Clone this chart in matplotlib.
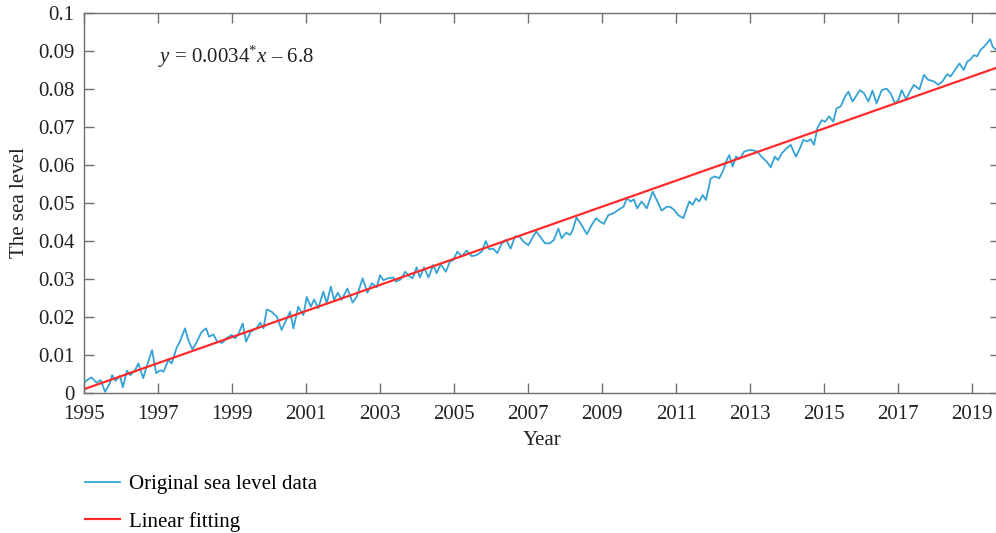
import numpy as np
import matplotlib
matplotlib.use("Agg")
import matplotlib.pyplot as plt

plt.rcParams['font.family'] = ['Liberation Serif', 'DejaVu Serif']
plt.rcParams['mathtext.fontset'] = 'custom'
plt.rcParams['mathtext.rm'] = 'Liberation Serif'
plt.rcParams['mathtext.it'] = 'Liberation Serif:italic'

# sea level readings (year, level)
years = [1995.00, 1995.05, 1995.20, 1995.34, 1995.45, 1995.57, 1995.70, 1995.76, 1995.85, 1995.97,
         1996.05, 1996.16, 1996.25, 1996.38, 1996.47, 1996.60, 1996.69, 1996.84, 1996.95, 1997.06,
         1997.15, 1997.28, 1997.37, 1997.50, 1997.59, 1997.73, 1997.82, 1997.93, 1998.03, 1998.18,
         1998.30, 1998.38, 1998.50, 1998.60, 1998.74, 1998.85, 1998.99, 1999.08, 1999.17, 1999.29,
         1999.38, 1999.50, 1999.66, 1999.76, 1999.85, 1999.94, 2000.07, 2000.21, 2000.34, 2000.57,
         2000.66, 2000.79, 2000.93, 2001.02, 2001.13, 2001.22, 2001.33, 2001.47, 2001.56, 2001.67,
         2001.76, 2001.86, 2001.96, 2002.12, 2002.26, 2002.37, 2002.53, 2002.66, 2002.78, 2002.91,
         2003.00, 2003.09, 2003.22, 2003.36, 2003.43, 2003.56, 2003.68, 2003.81, 2003.88, 2003.99,
         2004.08, 2004.19, 2004.31, 2004.44, 2004.53, 2004.64, 2004.78, 2004.89, 2004.98, 2005.09,
         2005.21, 2005.34, 2005.48, 2005.61, 2005.75, 2005.86, 2005.95, 2006.06, 2006.17, 2006.29,
         2006.41, 2006.53, 2006.65, 2006.77, 2006.87, 2007.01, 2007.14, 2007.22, 2007.32, 2007.46,
         2007.59, 2007.70, 2007.82, 2007.91, 2008.03, 2008.14, 2008.21, 2008.31, 2008.45, 2008.59,
         2008.72, 2008.84, 2008.95, 2009.05, 2009.17, 2009.31, 2009.44, 2009.58, 2009.67, 2009.78,
         2009.86, 2009.95, 2010.07, 2010.21, 2010.37, 2010.48, 2010.61, 2010.75, 2010.84, 2010.95,
         2011.06, 2011.20, 2011.29, 2011.36, 2011.45, 2011.54, 2011.63, 2011.72, 2011.81, 2011.94,
         2012.05, 2012.17, 2012.28, 2012.37, 2012.44, 2012.53, 2012.62, 2012.73, 2012.84, 2012.95,
         2013.07, 2013.20, 2013.31, 2013.45, 2013.56, 2013.67, 2013.76, 2013.86, 2013.99, 2014.10,
         2014.24, 2014.35, 2014.44, 2014.55, 2014.64, 2014.73, 2014.82, 2014.94, 2015.03, 2015.14,
         2015.25, 2015.34, 2015.45, 2015.57, 2015.66, 2015.77, 2015.86, 2015.97, 2016.08, 2016.20,
         2016.31, 2016.42, 2016.56, 2016.69, 2016.80, 2016.92, 2017.01, 2017.10, 2017.22, 2017.32,
         2017.43, 2017.58, 2017.70, 2017.82, 2017.97, 2018.09, 2018.20, 2018.33, 2018.42, 2018.54,
         2018.66, 2018.78, 2018.87, 2018.96, 2019.05, 2019.14, 2019.23, 2019.32, 2019.40, 2019.49,
         2019.56, 2019.65]
sea_level = [0.0025, 0.0032, 0.0041, 0.0027, 0.0034, 0.0003, 0.0026, 0.0047, 0.0032, 0.0045,
             0.0015, 0.0059, 0.0047, 0.0060, 0.0078, 0.0039, 0.0069, 0.0113, 0.0052, 0.0060,
             0.0056, 0.0087, 0.0078, 0.0118, 0.0135, 0.0170, 0.0139, 0.0115, 0.0131, 0.0161,
             0.0170, 0.0148, 0.0154, 0.0135, 0.0132, 0.0144, 0.0153, 0.0144, 0.0154, 0.0183,
             0.0135, 0.0161, 0.0170, 0.0185, 0.0170, 0.0220, 0.0214, 0.0201, 0.0166, 0.0214,
             0.0170, 0.0227, 0.0205, 0.0253, 0.0227, 0.0246, 0.0223, 0.0267, 0.0236, 0.0280,
             0.0245, 0.0264, 0.0245, 0.0275, 0.0238, 0.0253, 0.0302, 0.0264, 0.0289, 0.0278,
             0.0310, 0.0297, 0.0302, 0.0304, 0.0293, 0.0299, 0.0319, 0.0306, 0.0302, 0.0331,
             0.0304, 0.0331, 0.0304, 0.0337, 0.0315, 0.0339, 0.0319, 0.0346, 0.0350, 0.0372,
             0.0359, 0.0375, 0.0360, 0.0363, 0.0372, 0.0400, 0.0378, 0.0380, 0.0368, 0.0394,
             0.0403, 0.0380, 0.0412, 0.0412, 0.0399, 0.0389, 0.0412, 0.0425, 0.0412, 0.0394,
             0.0394, 0.0403, 0.0433, 0.0407, 0.0422, 0.0416, 0.0429, 0.0462, 0.0442, 0.0418,
             0.0442, 0.0460, 0.0451, 0.0445, 0.0468, 0.0473, 0.0482, 0.0490, 0.0512, 0.0504,
             0.0510, 0.0486, 0.0504, 0.0486, 0.0530, 0.0508, 0.0480, 0.0490, 0.0490, 0.0482,
             0.0468, 0.0460, 0.0486, 0.0504, 0.0495, 0.0512, 0.0504, 0.0521, 0.0508, 0.0565,
             0.0570, 0.0565, 0.0587, 0.0613, 0.0626, 0.0596, 0.0622, 0.0617, 0.0635, 0.0639,
             0.0639, 0.0635, 0.0622, 0.0609, 0.0594, 0.0622, 0.0613, 0.0631, 0.0644, 0.0653,
             0.0622, 0.0644, 0.0666, 0.0662, 0.0668, 0.0653, 0.0697, 0.0718, 0.0714, 0.0728,
             0.0714, 0.0749, 0.0754, 0.0780, 0.0793, 0.0767, 0.0780, 0.0797, 0.0789, 0.0767,
             0.0796, 0.0762, 0.0797, 0.0801, 0.0789, 0.0762, 0.0771, 0.0797, 0.0773, 0.0793,
             0.0811, 0.0799, 0.0837, 0.0824, 0.0820, 0.0811, 0.0820, 0.0839, 0.0833, 0.0850,
             0.0867, 0.0850, 0.0872, 0.0878, 0.0889, 0.0886, 0.0903, 0.0911, 0.0920, 0.0931,
             0.0911, 0.0903]

fit_slope = 0.00343
fit_intercept = 0.001 - fit_slope * 1995
fit_years = [1995, 2020]

xticks = list(range(1995, 2020, 2))
yticks = [0, 0.01, 0.02, 0.03, 0.04, 0.05, 0.06, 0.07, 0.08, 0.09, 0.1]
ytick_labels = ['0', '0.01', '0.02', '0.03', '0.04', '0.05', '0.06', '0.07', '0.08', '0.09', '0.1']

fig = plt.figure(figsize=(9.96, 5.33), dpi=100)
ax = fig.add_axes([84 / 996, 1 - 393 / 533, (1000 - 84) / 996, (393 - 13) / 533])

blue_line, = ax.plot(years, sea_level, color='#35a3d6', lw=1.3, label='Original sea level data')
fx = np.array(fit_years, dtype=float)
red_line, = ax.plot(fx, fit_slope * fx + fit_intercept, color='#ff2b2b', lw=1.6, label='Linear fitting')

ax.set_xlim(1995, 1995 + (1000 - 84) / 37.0)
ax.set_ylim(0, 0.1)
ax.set_xticks(xticks)
ax.set_yticks(yticks)
ax.set_yticklabels(ytick_labels)

for s in ax.spines.values():
    s.set_color('#707070')
    s.set_linewidth(1.0)
ax.tick_params(direction='in', length=7, width=1.0, color='#707070',
               top=True, right=True, labelsize=15, labelcolor='#222222', pad=7)
ax.tick_params(axis='x', pad=8.5)

ax.set_xlabel('Year', fontsize=15, color='#222222', labelpad=5)
ax.set_ylabel('The sea level', fontsize=15, color='#222222', labelpad=6)

ax.text(1997.0, 0.0884, r'$y$ = 0.0034$^{*}$$x$ – 6.8', fontsize=15, color='#222222',
        va='center', ha='left')

fig.legend(handles=[blue_line, red_line], loc='upper left', bbox_to_anchor=(0.0853, 0.110),
           frameon=False, fontsize=15, handlelength=1.7, handletextpad=0.4,
           labelspacing=0.85, borderpad=0, borderaxespad=0)

fig.savefig('out.png', dpi=100)
